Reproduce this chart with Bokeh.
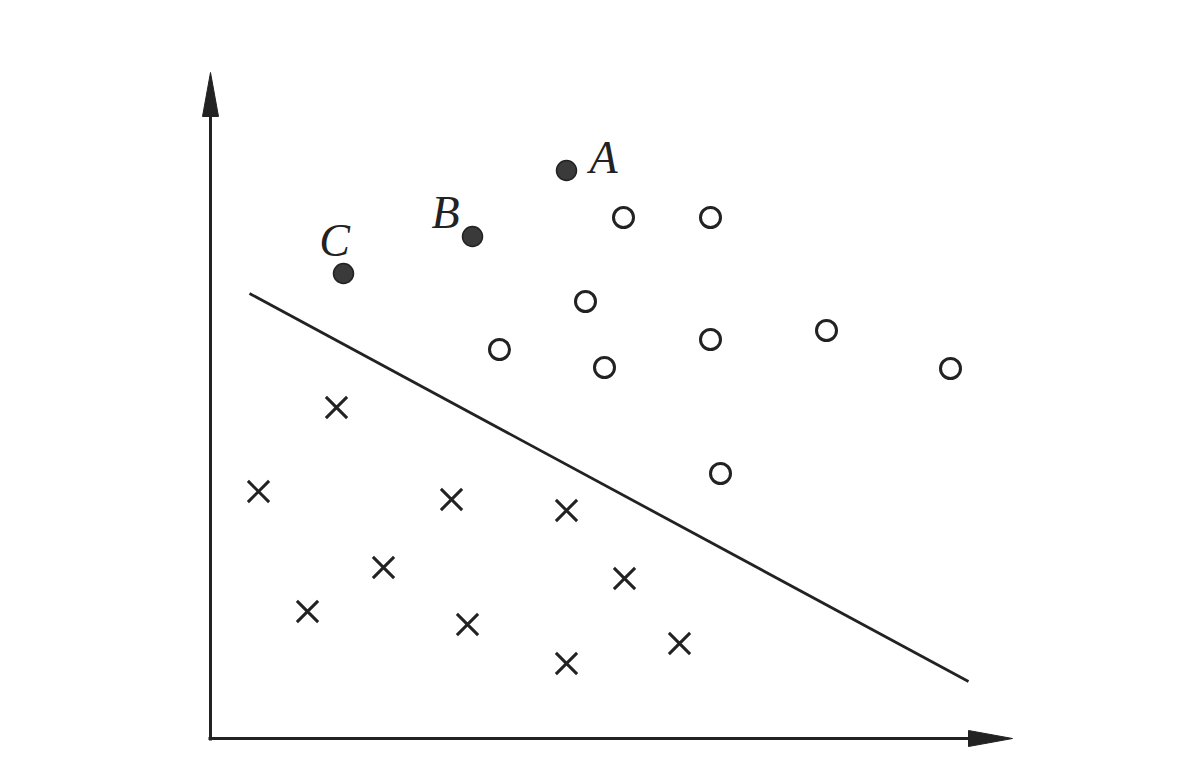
from bokeh.plotting import figure
from bokeh.models import Range1d, ColumnDataSource
from bokeh.core.properties import value
from bokeh.embed import file_html
from bokeh.resources import INLINE

# Data (units: arbitrary, origin at axis corner)
labeled_x = [356, 262, 133]
labeled_y = [568, 502, 465]
labeled_names = ["A", "B", "C"]
label_x = [393, 235, 124]
label_y = [581, 526, 498]

pos_x = [413, 500, 375, 616, 500, 289, 394, 740, 510]
pos_y = [521, 521, 437, 408, 399, 389, 371, 370, 265]

neg_x = [126, 48, 241, 356, 173, 414, 97, 257, 469, 356]
neg_y = [331, 247, 239, 228, 171, 160, 127, 114, 95, 75]

sep_x = [39, 758]
sep_y = [445, 57]

x_axis_end = 802
y_axis_end = 666

ink = "#222222"

p = figure(width=1200, height=774, output_backend="svg", toolbar_location=None,
           x_range=Range1d(-210, 990), y_range=Range1d(-36, 738),
           min_border=0)
p.axis.visible = False
p.grid.visible = False
p.outline_line_color = None
p.background_fill_color = "white"
p.border_fill_color = "white"

# axes with arrowheads
head_len = 44
head_half = 8
p.line([0, 0], [-2, y_axis_end - head_len + 4], line_color=ink, line_width=3)
p.line([-2, x_axis_end - head_len + 4], [0, 0], line_color=ink, line_width=3)
p.patch([-head_half, 0, head_half], [y_axis_end - head_len, y_axis_end, y_axis_end - head_len],
        fill_color=ink, line_color=ink)
p.patch([x_axis_end - head_len, x_axis_end, x_axis_end - head_len], [-head_half, 0, head_half],
        fill_color=ink, line_color=ink)

# separating line
p.line(sep_x, sep_y, line_color=ink, line_width=2.8)

# points
p.scatter(neg_x, neg_y, marker="x", size=30, line_color=ink, line_width=3)
p.scatter(pos_x, pos_y, marker="circle", size=20, fill_color="white", line_color=ink, line_width=3)
p.scatter(labeled_x, labeled_y, marker="circle", size=20, fill_color="#3a3a3a", line_color=ink, line_width=1.5)

src = ColumnDataSource(dict(x=label_x, y=label_y, t=labeled_names))
p.text(x="x", y="y", text="t", source=src, text_font=value("Liberation Serif"),
       text_font_style="italic", text_font_size="46px", text_color=ink,
       text_align="center", text_baseline="middle")

open("out.html", "w").write(file_html(p, INLINE))
